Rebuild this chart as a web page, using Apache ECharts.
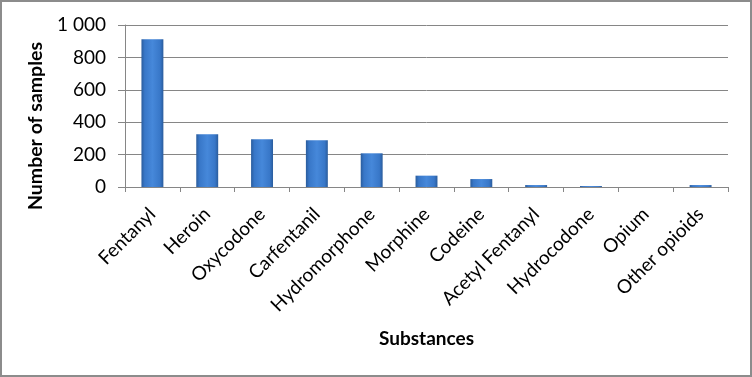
<!DOCTYPE html>
<html>
<head>
<meta charset="utf-8">
<script src="https://cdn.jsdelivr.net/npm/echarts@6/dist/echarts.min.js"></script>
<style>
  html, body { margin: 0; padding: 0; background: #fff; }
  #chart { width: 752px; height: 377px; box-sizing: border-box; border: 2px solid #8c8c8c; }
</style>
</head>
<body>
<div id="chart"></div>
<script>
const categories = ['Fentanyl', 'Heroin', 'Oxycodone', 'Carfentanil', 'Hydromorphone', 'Morphine',
  'Codeine', 'Acetyl Fentanyl', 'Hydrocodone', 'Opium', 'Other opioids'];
const samples = [912, 325, 294, 288, 208, 70, 49, 12, 6, 0, 12];

const font = 'Lato, "Open Sans", sans-serif';
const chart = echarts.init(document.getElementById('chart'));

chart.setOption({
  animation: false,
  grid: { left: 123, right: 22, top: 23, bottom: 188, containLabel: false },
  xAxis: {
    type: 'category',
    data: categories,
    name: 'Substances',
    nameLocation: 'middle',
    nameGap: 142,
    nameTextStyle: { fontFamily: font, fontWeight: 'bold', fontSize: 19, color: '#000' },
    axisLine: { lineStyle: { color: '#868686', width: 1 } },
    axisTick: { show: true, alignWithLabel: false, length: 5, lineStyle: { color: '#868686' } },
    axisLabel: { rotate: 45, fontFamily: font, fontSize: 19, color: '#000', margin: 24, interval: 0 }
  },
  yAxis: {
    type: 'value',
    min: 0,
    max: 1000,
    interval: 200,
    name: 'Number of samples',
    nameLocation: 'middle',
    nameGap: 72,
    nameTextStyle: { fontFamily: font, fontWeight: 'bold', fontSize: 19.5, color: '#000', padding: [0, 40, 0, 0] },
    axisLine: { show: true, lineStyle: { color: '#868686', width: 1 } },
    axisTick: { show: true, length: 7, lineStyle: { color: '#868686' } },
    splitLine: { lineStyle: { color: '#868686', width: 1 } },
    axisLabel: {
      fontFamily: font, fontSize: 19, color: '#000', margin: 19,
      formatter: v => String(v).replace(/\B(?=(\d{3})+(?!\d))/g, ' ')
    }
  },
  series: [{
    type: 'bar',
    data: samples,
    barWidth: '40%',
    itemStyle: {
      color: new echarts.graphic.LinearGradient(0, 0, 1, 0, [
        { offset: 0, color: '#2a5c9c' },
        { offset: 0.15, color: '#3877c8' },
        { offset: 0.5, color: '#4688da' },
        { offset: 0.85, color: '#3877c8' },
        { offset: 1, color: '#2a5c9c' }
      ])
    }
  }]
});
</script>
</body>
</html>
